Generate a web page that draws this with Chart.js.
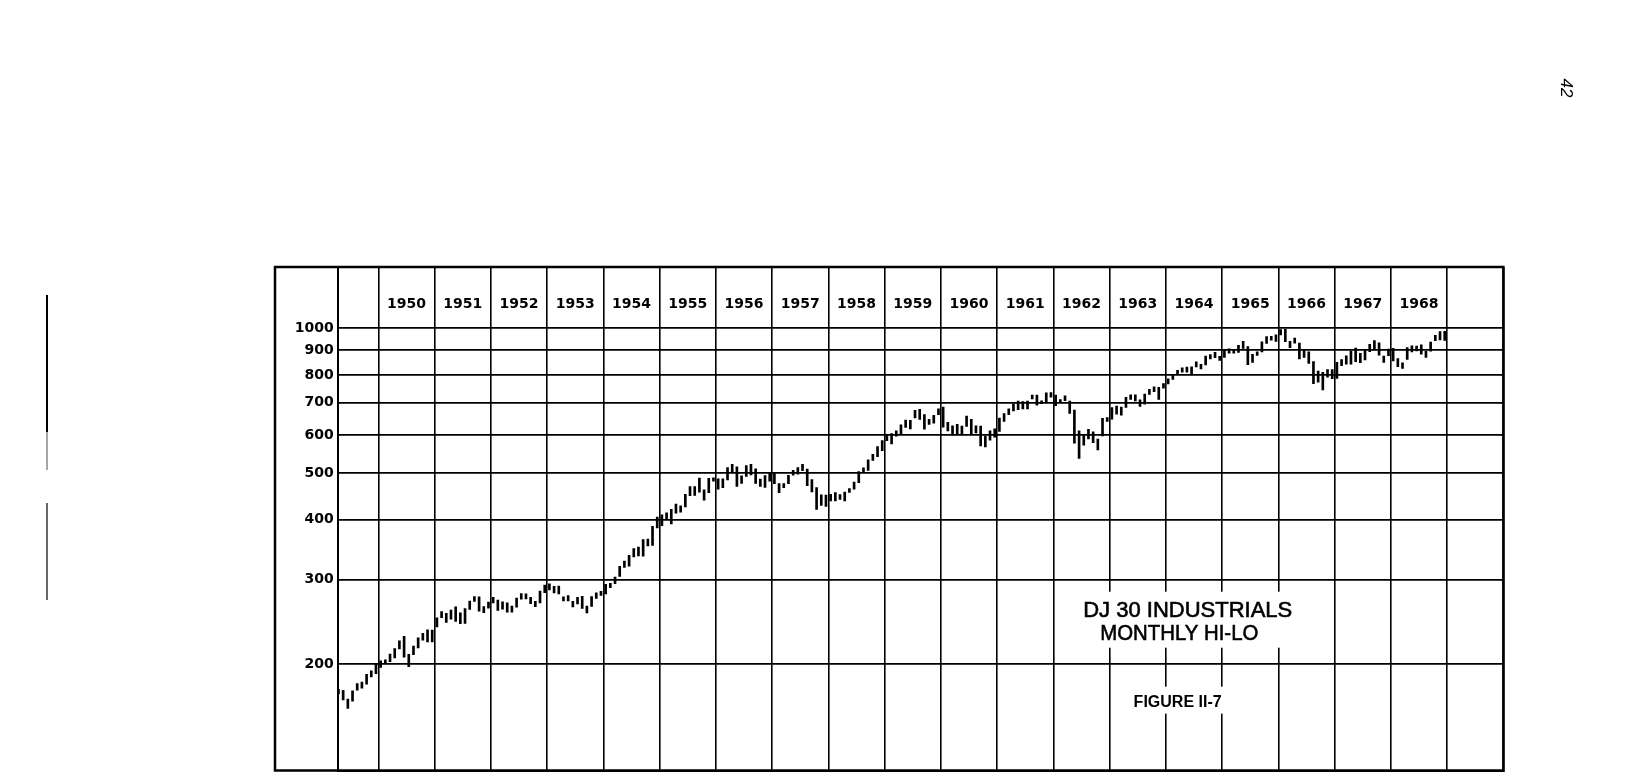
<!DOCTYPE html>
<html>
<head>
<meta charset="utf-8">
<script src="https://cdn.jsdelivr.net/npm/chart.js@4/dist/chart.umd.min.js"></script>
<style>
  html, body { margin: 0; padding: 0; background: #fff; }
  canvas { display: block; }
</style>
</head>
<body>
<canvas id="djChart" width="1639" height="772"></canvas>
<script>
// DJ 30 industrials, monthly high / low. first bar = April 1949
const firstYear = 1949;
const firstMonth = 3; // 0 = january

const monthlyHigh = [
    /*1949*/ 177.2, 176.2, 169.0, 175.9, 182.0, 183.3, 190.4, 193.6, 200.5,
    /*1950*/ 203.0, 204.0, 209.8, 215.3, 223.4, 228.4, 209.4, 217.8, 226.8, 231.7, 235.5, 235.4,
    /*1951*/ 249.6, 257.0, 255.1, 259.1, 263.1, 255.5, 260.7, 270.3, 276.4, 275.9, 263.3, 269.2,
    /*1952*/ 275.4, 271.8, 269.5, 268.3, 263.9, 274.3, 280.3, 279.8, 275.4, 270.1, 283.7, 292.0,
    /*1953*/ 293.8, 290.2, 290.6, 275.9, 277.5, 270.1, 275.4, 276.7, 264.0, 276.3, 281.4, 283.5,
    /*1954*/ 292.9, 294.5, 303.5, 319.3, 327.6, 336.9, 348.0, 350.4, 363.3, 364.0, 387.0, 404.4,
    /*1955*/ 408.9, 413.0, 419.7, 430.6, 427.2, 451.4, 468.5, 468.2, 487.5, 461.1, 487.4, 488.4,
    /*1956*/ 485.8, 485.7, 513.0, 521.1, 515.0, 492.8, 517.8, 520.9, 509.8, 485.4, 493.6, 499.5,
    /*1957*/ 499.2, 474.9, 475.0, 494.4, 506.0, 513.2, 520.8, 509.5, 484.4, 465.8, 449.9, 449.6,
    /*1958*/ 451.2, 454.9, 450.7, 455.9, 463.7, 478.2, 503.0, 512.4, 532.1, 546.4, 567.4, 583.7,
    /*1959*/ 597.7, 603.5, 611.9, 629.9, 643.8, 643.6, 674.9, 678.1, 661.6, 646.6, 659.2, 679.4,
    /*1960*/ 685.5, 636.9, 626.9, 630.8, 625.5, 656.4, 646.4, 626.4, 626.1, 596.5, 612.0, 617.8,
    /*1961*/ 650.6, 664.2, 679.4, 696.7, 705.5, 703.8, 705.4, 725.8, 726.5, 706.7, 734.3, 734.9,
    /*1962*/ 726.0, 711.0, 723.5, 705.4, 675.5, 611.9, 597.9, 616.0, 609.0, 588.1, 649.3, 652.1,
    /*1963*/ 683.7, 689.0, 685.9, 718.1, 727.0, 726.9, 710.1, 729.3, 746.0, 755.2, 753.8, 767.2,
    /*1964*/ 785.3, 800.1, 818.0, 827.3, 830.2, 831.5, 851.4, 842.0, 875.7, 881.3, 891.7, 874.1,
    /*1965*/ 903.0, 906.3, 901.9, 922.3, 939.6, 916.1, 883.2, 894.0, 937.9, 960.8, 961.9, 969.3,
    /*1966*/ 994.2, 995.2, 939.8, 954.7, 931.9, 903.2, 894.0, 852.4, 814.3, 809.6, 820.9, 820.5,
    /*1967*/ 849.9, 861.0, 876.7, 897.1, 909.6, 886.8, 904.6, 926.7, 943.1, 933.2, 875.8, 905.1,
    /*1968*/ 908.9, 865.1, 847.8, 912.2, 919.9, 918.0, 923.7, 896.1, 935.8, 967.5, 985.1, 985.2
];

const monthlyLow = [
    /*1949*/ 173.2, 168.4, 161.6, 167.4, 176.3, 178.0, 181.6, 188.0, 190.8,
    /*1950*/ 196.8, 200.9, 202.3, 206.0, 214.9, 206.7, 197.5, 209.0, 216.0, 224.1, 222.3, 222.3,
    /*1951*/ 238.9, 249.7, 244.0, 247.9, 245.3, 242.6, 243.0, 259.9, 269.9, 257.6, 255.9, 261.5,
    /*1952*/ 268.1, 258.5, 260.1, 256.4, 256.4, 262.6, 273.0, 273.2, 267.2, 263.1, 268.1, 281.6,
    /*1953*/ 285.3, 281.1, 279.9, 270.7, 270.7, 262.9, 266.7, 261.2, 255.5, 263.6, 273.9, 278.0,
    /*1954*/ 279.9, 288.3, 294.0, 304.3, 317.9, 319.6, 334.1, 335.8, 335.5, 352.1, 353.0, 384.0,
    /*1955*/ 388.2, 401.0, 391.4, 412.0, 414.0, 424.9, 448.5, 448.8, 455.6, 438.6, 454.9, 480.7,
    /*1956*/ 462.4, 465.7, 483.6, 503.0, 468.8, 475.3, 491.9, 495.0, 475.3, 468.7, 466.1, 480.6,
    /*1957*/ 474.6, 454.8, 466.0, 474.9, 494.7, 497.1, 505.2, 470.1, 456.3, 419.8, 427.9, 425.7,
    /*1958*/ 436.9, 436.9, 440.1, 437.1, 455.5, 462.3, 476.9, 502.7, 506.0, 530.9, 540.5, 556.1,
    /*1959*/ 583.2, 574.5, 596.4, 602.9, 621.7, 617.6, 650.9, 646.0, 616.5, 630.6, 634.5, 661.3,
    /*1960*/ 622.6, 611.3, 599.1, 601.7, 599.6, 624.9, 601.7, 605.6, 569.1, 566.1, 585.2, 593.5,
    /*1961*/ 610.3, 639.8, 661.1, 672.7, 677.1, 679.9, 679.3, 712.8, 691.9, 697.2, 703.9, 718.7,
    /*1962*/ 689.9, 702.5, 706.6, 665.3, 576.9, 535.8, 571.2, 588.4, 578.0, 558.1, 597.1, 639.8,
    /*1963*/ 646.8, 662.9, 659.7, 684.3, 711.1, 706.0, 687.7, 694.9, 728.2, 737.9, 711.5, 750.8,
    /*1964*/ 766.1, 783.0, 801.0, 810.8, 810.0, 800.3, 831.5, 823.4, 839.6, 864.1, 869.2, 857.0,
    /*1965*/ 869.8, 887.8, 887.8, 891.0, 908.0, 840.6, 849.2, 877.9, 893.1, 929.7, 945.4, 939.5,
    /*1966*/ 968.5, 938.2, 911.1, 931.3, 864.1, 870.1, 845.0, 767.0, 772.7, 744.3, 791.6, 785.7,
    /*1967*/ 786.4, 836.6, 841.8, 842.4, 852.6, 847.8, 859.7, 893.7, 901.2, 879.7, 849.6, 877.6,
    /*1968*/ 855.5, 831.8, 825.1, 861.3, 892.6, 897.8, 883.0, 869.7, 896.0, 942.3, 946.2, 943.8
];

const yearLabels = ['1950', '1951', '1952', '1953', '1954', '1955', '1956', '1957', '1958', '1959',
    '1960', '1961', '1962', '1963', '1964', '1965', '1966', '1967', '1968'];
const yearLines = [1950, 1951, 1952, 1953, 1954, 1955, 1956, 1957, 1958, 1959,
    1960, 1961, 1962, 1963, 1964, 1965, 1966, 1967, 1968, 1969, 1970];
const valueTicks = [200, 300, 400, 500, 600, 700, 800, 900, 1000];
const titleLines = ['DJ 30 INDUSTRIALS', 'MONTHLY HI-LO'];
const figureLabel = 'FIGURE II-7';
const pageNumber = '42';

const bars = monthlyHigh.map((h, i) => ({
    x: firstYear + (firstMonth + i + 0.5) / 12,
    y: [monthlyLow[i], h]
}));

//frame, year headings, caption and the page bits of the scan
const decor = {
    id: 'decor',
    afterDatasetsDraw(chart) {
        const { ctx, chartArea: a, scales: { x, y } } = chart;
        ctx.save();

        ctx.strokeStyle = '#000';
        ctx.lineWidth = 2.5;
        ctx.strokeRect(y.left, a.top, a.right - y.left, a.bottom - a.top);

        ctx.fillStyle = '#000';
        ctx.font = 'bold 14px "DejaVu Sans"';
        ctx.textAlign = 'center';
        ctx.textBaseline = 'middle';
        const headY = y.getPixelForValue(1122);
        yearLabels.forEach(lbl => {
            ctx.fillText(lbl, x.getPixelForValue(Number(lbl) + 0.5), headY);
        });

        // caption block, sits on white over the grid
        ctx.textBaseline = 'alphabetic';
        const l1x = x.getPixelForValue(1964.39), l1y = y.getPixelForValue(250.9);
        const l2x = x.getPixelForValue(1964.24), l2y = y.getPixelForValue(224.4);
        ctx.fillStyle = '#fff';
        ctx.fillRect(l1x - 113, l1y - 25, 226, 56);
        ctx.fillStyle = '#000';
        ctx.strokeStyle = '#000';
        ctx.lineWidth = 0.6;
        ctx.font = '22px "Liberation Sans"';
        ctx.fillText(titleLines[0], l1x, l1y, 212);
        ctx.strokeText(titleLines[0], l1x, l1y, 212);
        ctx.fillText(titleLines[1], l2x, l2y, 158);
        ctx.strokeText(titleLines[1], l2x, l2y, 158);

        const fx = x.getPixelForValue(1964.21), fy = y.getPixelForValue(163.0);
        ctx.fillStyle = '#fff';
        ctx.fillRect(fx - 52, fy - 20, 104, 27);
        ctx.fillStyle = '#000';
        ctx.font = 'bold 16px "Liberation Sans"';
        ctx.fillText(figureLabel, fx, fy, 92);

        // page number, turned with the page
        ctx.save();
        ctx.translate(1566, 88);
        ctx.rotate(Math.PI / 2);
        ctx.font = 'italic 17px "Liberation Sans"';
        ctx.textBaseline = 'middle';
        ctx.fillText(pageNumber, 0, 0);
        ctx.restore();

        // edge of the scanned sheet
        ctx.lineWidth = 2;
        ctx.beginPath(); ctx.moveTo(47, 295); ctx.lineTo(47, 432); ctx.stroke();
        ctx.strokeStyle = '#888';
        ctx.lineWidth = 1.5;
        ctx.beginPath(); ctx.moveTo(47, 432); ctx.lineTo(47, 470); ctx.stroke();
        ctx.strokeStyle = '#000';
        ctx.lineWidth = 1.2;
        ctx.beginPath(); ctx.moveTo(47, 503); ctx.lineTo(47, 600); ctx.stroke();

        ctx.restore();
    }
};

new Chart(document.getElementById('djChart'), {
    type: 'bar',
    data: {
        datasets: [{ data: bars, backgroundColor: '#000', barThickness: 2, borderWidth: 0 }]
    },
    options: {
        responsive: false,
        animation: false,
        events: [],
        layout: { autoPadding: false, padding: { left: 275, top: 267, right: 135.7, bottom: 1.5 } },
        plugins: { legend: { display: false }, tooltip: { enabled: false } },
        scales: {
            x: {
                type: 'linear',
                offset: false,
                min: 1949.278,
                max: 1970,
                afterBuildTicks: s => { s.ticks = yearLines.map(v => ({ value: v })); },
                afterFit: s => { s.height = 0; },
                ticks: { display: false },
                grid: { color: '#000', lineWidth: 1.6, drawTicks: false, offset: false },
                border: { color: '#000', width: 2 }
            },
            y: {
                type: 'logarithmic',
                min: 120,
                max: 1342,
                afterBuildTicks: s => { s.ticks = valueTicks.map(v => ({ value: v })); },
                //labels must not push the plot up from the bottom edge
                afterFit: s => { s.width = 62.7; s.paddingTop = 0; s.paddingBottom = 0; },
                ticks: {
                    autoSkip: false,
                    color: '#000',
                    padding: 4,
                    font: { family: 'DejaVu Sans', weight: 'bold', size: 14 },
                    callback: v => String(v)
                },
                grid: { color: '#000', lineWidth: 1.8, drawTicks: false },
                border: { color: '#000', width: 2 }
            }
        }
    },
    plugins: [decor]
});
</script>
</body>
</html>
